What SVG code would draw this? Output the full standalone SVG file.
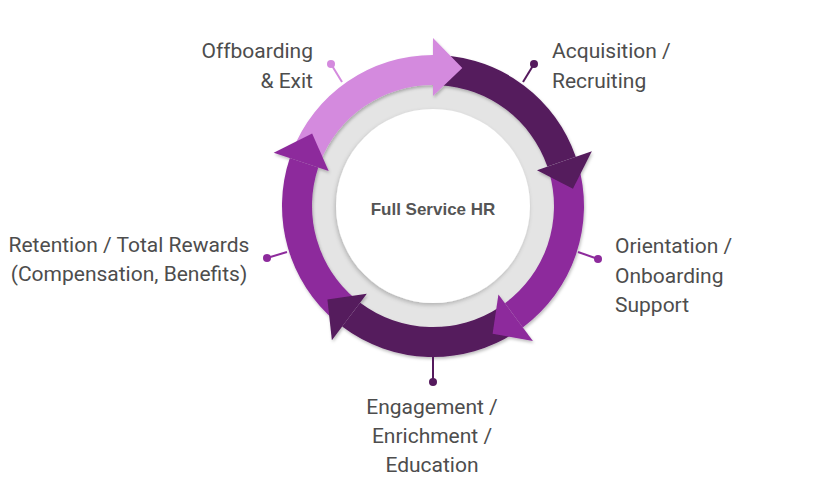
<svg xmlns="http://www.w3.org/2000/svg" width="830" height="484" viewBox="0 0 830 484">
<defs>
<filter id="sh" x="-20%" y="-20%" width="140%" height="140%"><feDropShadow dx="1" dy="2" stdDeviation="1.5" flood-color="#000" flood-opacity="0.25"/></filter>
<filter id="ish" x="-20%" y="-20%" width="140%" height="140%"><feDropShadow dx="-1" dy="2" stdDeviation="2" flood-color="#000" flood-opacity="0.22"/></filter>
</defs>
<style>
.lbl{font-family:Roboto,"Liberation Sans",sans-serif;font-size:21px;fill:#4d4d4d}
.light{fill:#d48ade}
.dark{fill:#551a5d}
.purp{fill:#8d2b9c}
.ll{stroke:#d48ade}
.ld{stroke:#551a5d}
.lp{stroke:#8d2b9c}
.lead line{stroke-width:2}
</style>
<rect width="830" height="484" fill="#fff"/>
<g id="hub">
<circle cx="433" cy="206" r="127" fill="#e4e4e4"/>
<circle cx="433" cy="206" r="97" fill="#fff" filter="url(#ish)"/>
<text x="433" y="215" text-anchor="middle" style="font-family:'Liberation Sans',Arial,sans-serif;font-weight:bold;font-size:17px;fill:#555">Full Service HR</text>
</g>
<g id="cycle" filter="url(#sh)">
<g id="bodies">
<path class="light" d="M292.03,151.88 A151,151 0 0 1 433,55 L433,85 A121,121 0 0 0 320.03,162.63 Z"/>
<path class="dark" d="M440.90,55.21 A151,151 0 0 1 575.77,156.84 L547.41,166.61 A121,121 0 0 0 439.33,85.17 Z"/>
<path class="purp" d="M578.15,164.38 A151,151 0 0 1 522.82,327.38 L504.97,303.27 A121,121 0 0 0 549.31,172.65 Z"/>
<path class="dark" d="M516.34,331.92 A151,151 0 0 1 342.13,326.59 L360.18,302.64 A121,121 0 0 0 499.78,306.90 Z"/>
<path class="purp" d="M335.94,321.67 A151,151 0 0 1 289.80,158.09 L318.25,167.61 A121,121 0 0 0 355.22,298.69 Z"/>
</g>
<g id="heads">
<path class="light" d="M433,38 L462.3,68.1 L433,96 Z"/>
<path class="dark" d="M591.85,151.30 L572.95,188.82 L537.01,170.19 Z"/>
<path class="purp" d="M532.93,341.05 L492.59,333.79 L498.43,294.42 Z"/>
<path class="dark" d="M331.89,340.17 L327.40,299.43 L366.80,293.85 Z"/>
<path class="purp" d="M273.68,152.69 L312.14,133.38 L328.68,171.10 Z"/>
</g>
</g>
<g id="connectors" class="lead">
<line class="ll" x1="342" y1="82" x2="331" y2="64"/>
<line class="ld" x1="523" y1="82" x2="534" y2="64"/>
<line class="lp" x1="578" y1="252" x2="598" y2="259"/>
<line class="ld" x1="433" y1="357" x2="433" y2="382"/>
<line class="lp" x1="287" y1="252" x2="267" y2="258"/>
<circle class="light" cx="331" cy="64" r="4"/>
<circle class="dark" cx="534" cy="64" r="4"/>
<circle class="purp" cx="598" cy="259" r="4"/>
<circle class="dark" cx="433" cy="382" r="4"/>
<circle class="purp" cx="267" cy="258" r="4"/>
</g>
<g id="offboarding">
<text class="lbl" text-anchor="end" x="313" y="58">Offboarding</text>
<text class="lbl" text-anchor="end" x="313" y="88">&amp; Exit</text>
</g>
<g id="acquisition">
<text class="lbl" x="552" y="58">Acquisition /</text>
<text class="lbl" x="552" y="88">Recruiting</text>
</g>
<g id="orientation">
<text class="lbl" x="615" y="253">Orientation /</text>
<text class="lbl" x="615" y="283">Onboarding</text>
<text class="lbl" x="615" y="312">Support</text>
</g>
<g id="engagement">
<text class="lbl" text-anchor="middle" x="432" y="414">Engagement /</text>
<text class="lbl" text-anchor="middle" x="432" y="443">Enrichment /</text>
<text class="lbl" text-anchor="middle" x="432" y="472">Education</text>
</g>
<g id="retention">
<text class="lbl" text-anchor="middle" x="129" y="252">Retention / Total Rewards</text>
<text class="lbl" text-anchor="middle" x="129" y="281">(Compensation, Benefits)</text>
</g>
</svg>
